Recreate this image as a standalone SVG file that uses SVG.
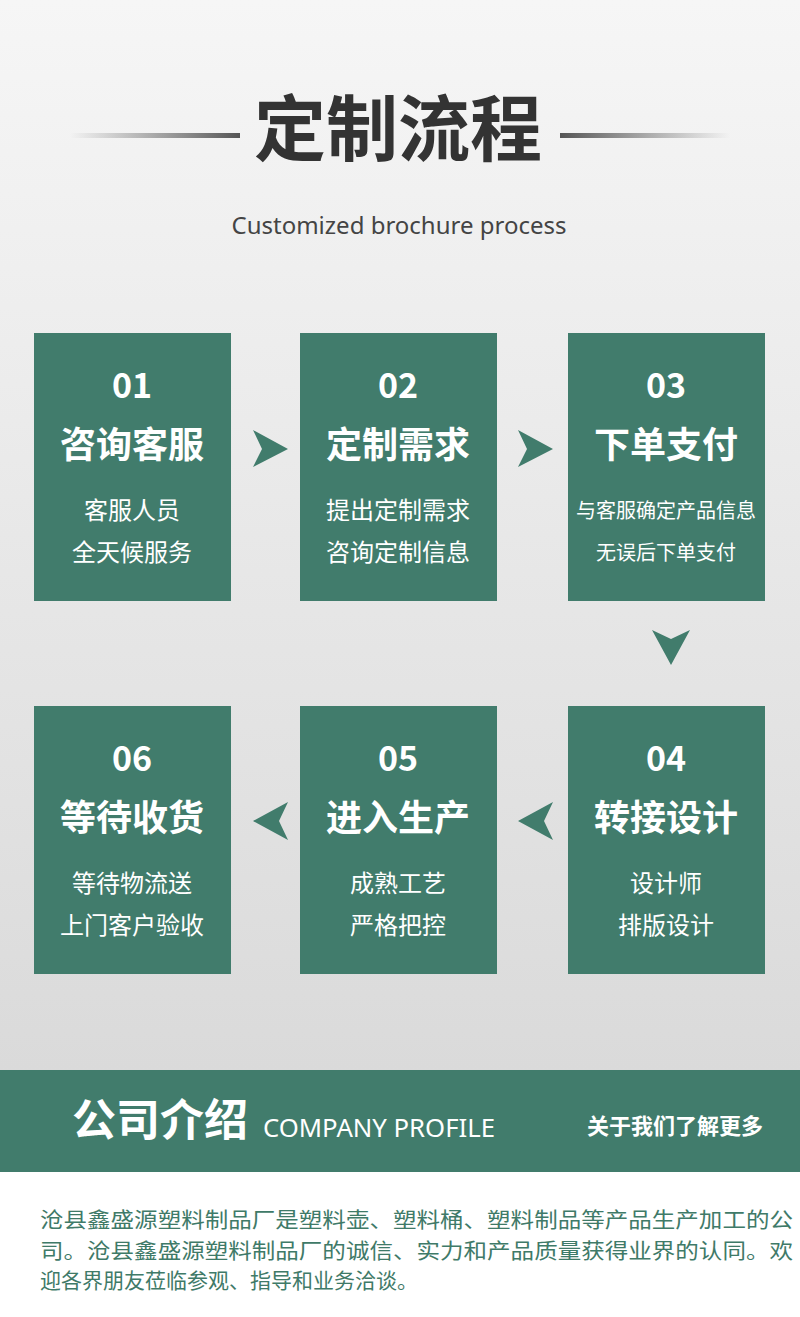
<svg xmlns="http://www.w3.org/2000/svg" width="800" height="1317" viewBox="0 0 800 1317">
<defs>
<linearGradient id="bg" x1="0" y1="0" x2="0" y2="1"><stop offset="0" stop-color="#f6f6f6"/><stop offset="1" stop-color="#dadada"/></linearGradient>
<linearGradient id="ll" x1="0" y1="0" x2="1" y2="0"><stop offset="0" stop-color="#666" stop-opacity="0"/><stop offset="1" stop-color="#555"/></linearGradient>
<linearGradient id="lr" x1="1" y1="0" x2="0" y2="0"><stop offset="0" stop-color="#666" stop-opacity="0"/><stop offset="1" stop-color="#555"/></linearGradient>
<style>
.box{fill:#417c6c}
.arr{fill:#417c6c}
.num{font-family:"Noto Sans CJK SC","Noto Sans",sans-serif;font-weight:bold;font-size:34px;fill:#fff;text-anchor:middle}
.ttl{font-family:"Noto Sans CJK SC",sans-serif;font-weight:bold;font-size:36px;fill:#fff;text-anchor:middle}
.sub{font-family:"Noto Sans CJK SC",sans-serif;font-size:24px;fill:#fff;text-anchor:middle}
.sub2{font-family:"Noto Sans CJK SC",sans-serif;font-size:20px;fill:#fff;text-anchor:middle}
.p{font-family:"Noto Sans CJK SC",sans-serif;font-size:21px;fill:#3f7a68}
</style>
</defs>
<rect width="800" height="1070" fill="url(#bg)"/>
<rect y="1172" width="800" height="145" fill="#fff"/>
<rect x="70" y="133" width="170" height="5" fill="url(#ll)"/>
<rect x="560" y="133" width="170" height="5" fill="url(#lr)"/>
<text x="398" y="155" font-family="Noto Sans CJK SC,sans-serif" font-weight="bold" font-size="72" fill="#333" text-anchor="middle">定制流程</text>
<text x="399" y="234" font-family="Noto Sans,sans-serif" font-size="24" fill="#444" text-anchor="middle">Customized brochure process</text>
<g id="connectors">
<polygon class="arr" points="253,430 288,449 253,467 262,449"/>
<polygon class="arr" points="518,430 553,449 518,467 527,449"/>
<polygon class="arr" points="652,630 671,665 690,630 671,639"/>
<polygon class="arr" points="553,802 518,821 553,840 544,821"/>
<polygon class="arr" points="288,802 253,821 288,840 279,821"/>
</g>
<g id="n1"><rect class="box" x="34" y="333" width="197" height="268"/><text class="num" x="132" y="398">01</text><text class="ttl" x="132" y="458">咨询客服</text><text class="sub" x="132" y="519">客服人员</text><text class="sub" x="132" y="561">全天候服务</text></g>
<g id="n2"><rect class="box" x="300" y="333" width="197" height="268"/><text class="num" x="398" y="398">02</text><text class="ttl" x="398" y="458">定制需求</text><text class="sub" x="398" y="519">提出定制需求</text><text class="sub" x="398" y="561">咨询定制信息</text></g>
<g id="n3"><rect class="box" x="568" y="333" width="197" height="268"/><text class="num" x="666" y="398">03</text><text class="ttl" x="666" y="458">下单支付</text><text class="sub2" x="666" y="518">与客服确定产品信息</text><text class="sub2" x="666" y="560">无误后下单支付</text></g>
<g id="n4"><rect class="box" x="568" y="706" width="197" height="268"/><text class="num" x="666" y="771">04</text><text class="ttl" x="666" y="831">转接设计</text><text class="sub" x="666" y="892">设计师</text><text class="sub" x="666" y="934">排版设计</text></g>
<g id="n5"><rect class="box" x="300" y="706" width="197" height="268"/><text class="num" x="398" y="771">05</text><text class="ttl" x="398" y="831">进入生产</text><text class="sub" x="398" y="892">成熟工艺</text><text class="sub" x="398" y="934">严格把控</text></g>
<g id="n6"><rect class="box" x="34" y="706" width="197" height="268"/><text class="num" x="132" y="771">06</text><text class="ttl" x="132" y="831">等待收货</text><text class="sub" x="132" y="892">等待物流送</text><text class="sub" x="132" y="934">上门客户验收</text></g>
<rect y="1070" width="800" height="102" fill="#417c6c"/>
<text x="72" y="1136" font-family="Noto Sans CJK SC,sans-serif" font-weight="bold" font-size="44" fill="#fff">公司介绍</text>
<text x="263" y="1137" font-family="Noto Sans,sans-serif" font-size="26" fill="#fff" textLength="232" lengthAdjust="spacingAndGlyphs">COMPANY PROFILE</text>
<text x="587" y="1134" font-family="Noto Sans CJK SC,sans-serif" font-weight="bold" font-size="22" fill="#fff">关于我们了解更多</text>
<text class="p" x="40" y="1227" textLength="753" lengthAdjust="spacingAndGlyphs">沧县鑫盛源塑料制品厂是塑料壶、塑料桶、塑料制品等产品生产加工的公</text>
<text class="p" x="40" y="1258" textLength="753" lengthAdjust="spacingAndGlyphs">司。沧县鑫盛源塑料制品厂的诚信、实力和产品质量获得业界的认同。欢</text>
<text class="p" x="40" y="1288">迎各界朋友莅临参观、指导和业务洽谈。</text>
</svg>
